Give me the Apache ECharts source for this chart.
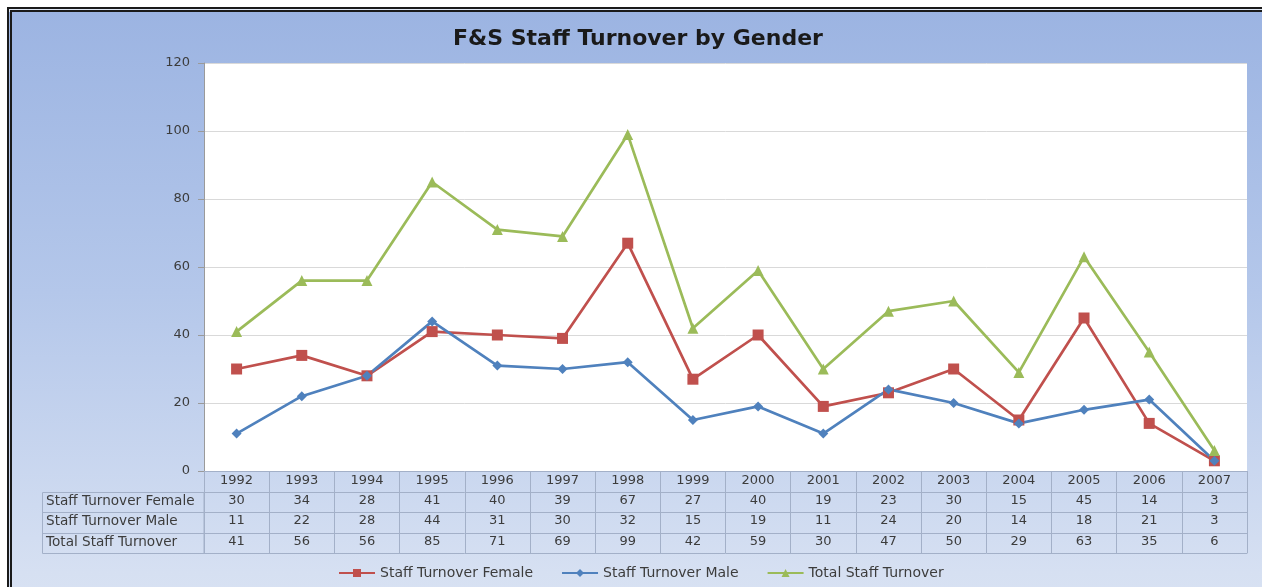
<!DOCTYPE html>
<html>
<head>
<meta charset="utf-8">
<script src="https://cdn.jsdelivr.net/npm/echarts@6/dist/echarts.min.js"></script>
<style>
  html, body { margin: 0; padding: 0; background: #fff; overflow: hidden; }
  #wrap { position: relative; width: 1262px; height: 587px; overflow: hidden; }
  #frame { position: absolute; left: 7px; top: 7px; width: 1300px; height: 700px;
           border: 5px double #1a1a1a;
           background: linear-gradient(to bottom, #9cb4e2 0%, #b4c7ea 40%, #d6e0f2 80%, #e0e8f5 100%); }
  #chart { position: absolute; left: 0; top: 0; width: 1262px; height: 587px; }
</style>
</head>
<body>
<div id="wrap"><div id="frame"></div><div id="chart"></div></div>
<script>
const years = ['1992','1993','1994','1995','1996','1997','1998','1999','2000','2001','2002','2003','2004','2005','2006','2007'];
const female = [30,34,28,41,40,39,67,27,40,19,23,30,15,45,14,3];
const male   = [11,22,28,44,31,30,32,15,19,11,24,20,14,18,21,3];
const total  = [41,56,56,85,71,69,99,42,59,30,47,50,29,63,35,6];
const seriesNames = ['Staff Turnover Female','Staff Turnover Male','Total Staff Turnover'];
const yTicks = { min: 0, max: 120, interval: 20 };

const FONT = '"DejaVu Sans"';
const TXT = '#3c3c3c';
const TABLE_LINE = '#a3b0c8';
const FS = 13;
const rows = [female, male, total];
const rowOffsets = [21, 41, 62];

const chart = echarts.init(document.getElementById('chart'), null, { renderer: 'canvas' });

const xAxes = [{
  type: 'category', data: years, gridIndex: 0, position: 'bottom', offset: 0,
  boundaryGap: true,
  axisLine: { lineStyle: { color: TABLE_LINE, width: 1 } },
  axisTick: { show: true, interval: 0, length: 21, lineStyle: { color: TABLE_LINE } },
  axisLabel: { interval: 0, margin: 3, color: TXT, fontSize: FS, fontFamily: FONT }
}];
rows.forEach((r, k) => {
  xAxes.push({
    type: 'category', data: years, gridIndex: 0, position: 'bottom', offset: rowOffsets[k],
    boundaryGap: true,
    name: seriesNames[k], nameLocation: 'start', nameGap: 158,
    nameTextStyle: { align: 'left', verticalAlign: 'top', padding: [2, 0, 0, 0], color: TXT, fontSize: 13.6, fontFamily: FONT },
    axisLine: { lineStyle: { color: TABLE_LINE, width: 1 } },
    axisTick: { show: true, interval: 0, length: (k === 1 ? 21 : 20), lineStyle: { color: TABLE_LINE } },
    axisLabel: { interval: 0, margin: 2, color: TXT, fontSize: FS, fontFamily: FONT,
                 formatter: (v, i) => String(r[i]) }
  });
});
xAxes.push({
  type: 'category', data: years, gridIndex: 0, position: 'bottom', offset: 82,
  axisLine: { lineStyle: { color: TABLE_LINE, width: 1 } },
  axisTick: { show: false }, axisLabel: { show: false }
});

const option = {
  animation: false,
  backgroundColor: 'transparent',
  textStyle: { fontFamily: FONT },
  title: {
    text: 'F&S Staff Turnover by Gender', left: 448, top: 23,
    textStyle: { fontFamily: FONT, fontSize: 22, fontWeight: 'bold', color: '#1a1a1a' }
  },
  legend: {
    top: 561, left: 333, itemWidth: 36, itemHeight: 10, itemGap: 28,
    textStyle: { fontSize: 14, color: TXT, fontFamily: FONT },
    data: seriesNames
  },
  grid: {
    left: 204, right: 15, top: 63, bottom: 116,
    show: true, backgroundColor: '#ffffff', borderWidth: 0,
    outerBoundsMode: 'none'
  },
  xAxis: xAxes,
  yAxis: {
    type: 'value', min: yTicks.min, max: yTicks.max, interval: yTicks.interval,
    axisLine: { show: true, lineStyle: { color: '#9a9a9a' } },
    axisTick: { show: true, length: 6, lineStyle: { color: '#9a9a9a' } },
    splitLine: { lineStyle: { color: '#d9d9d9' } },
    axisLabel: { color: TXT, fontSize: FS, margin: 14, fontFamily: FONT }
  },
  graphic: [
    { type: 'rect', shape: { x: 42.5, y: 492.5, width: 161.5, height: 61 }, style: { fill: 'none', stroke: TABLE_LINE, lineWidth: 1 }, silent: true },
    { type: 'line', shape: { x1: 42.5, y1: 512.5, x2: 204, y2: 512.5 }, style: { stroke: TABLE_LINE, lineWidth: 1 }, silent: true },
    { type: 'line', shape: { x1: 42.5, y1: 533.5, x2: 204, y2: 533.5 }, style: { stroke: TABLE_LINE, lineWidth: 1 }, silent: true }
  ],
  series: [
    { name: seriesNames[0], type: 'line', data: female, xAxisIndex: 0, symbol: 'rect', symbolSize: 11,
      lineStyle: { width: 2.7, color: '#c0504d' }, itemStyle: { color: '#c0504d' } },
    { name: seriesNames[1], type: 'line', data: male, xAxisIndex: 0, symbol: 'diamond', symbolSize: 10,
      lineStyle: { width: 2.7, color: '#4f81bd' }, itemStyle: { color: '#4f81bd' } },
    { name: seriesNames[2], type: 'line', data: total, xAxisIndex: 0, symbol: 'triangle', symbolSize: 11,
      lineStyle: { width: 2.7, color: '#9bbb59' }, itemStyle: { color: '#9bbb59' } }
  ]
};
chart.setOption(option);
</script>
</body>
</html>
